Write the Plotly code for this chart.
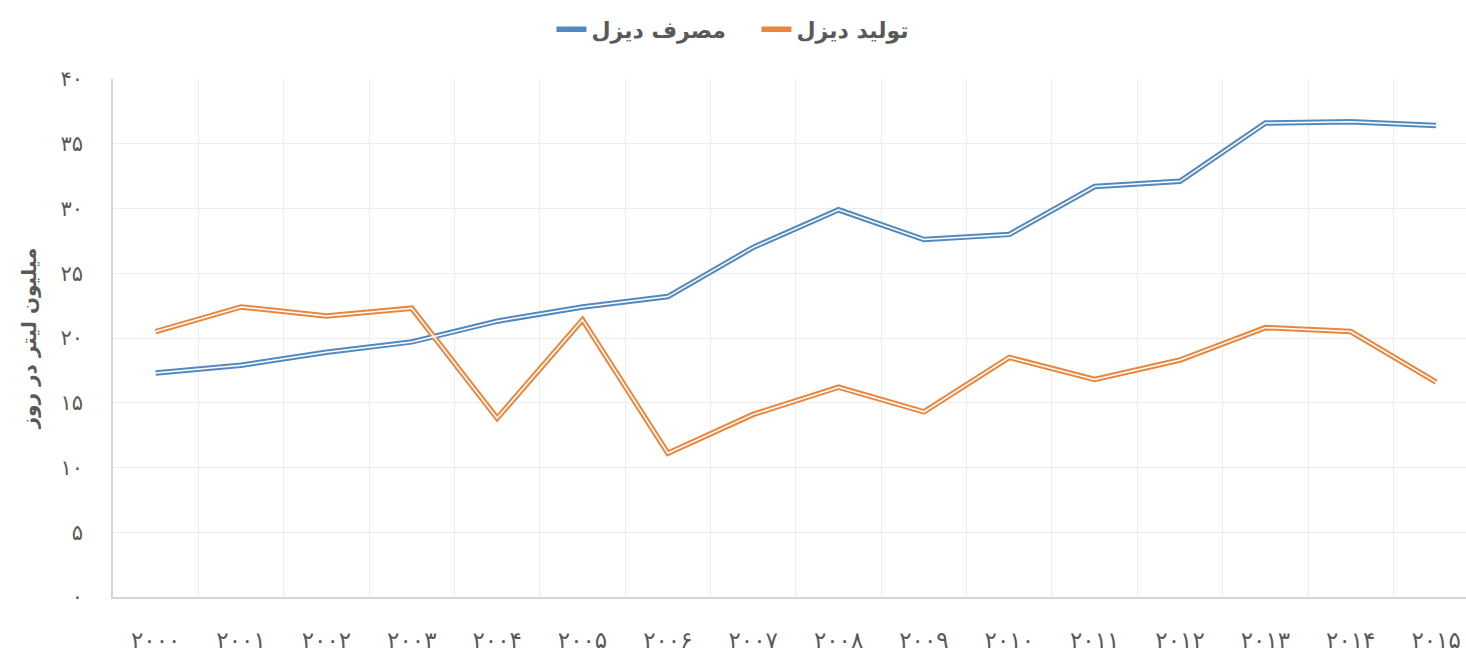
import plotly.graph_objects as go

FA = str.maketrans("0123456789", "۰۱۲۳۴۵۶۷۸۹")
def fa(v):
    return str(v).translate(FA)

years = list(range(2000, 2016))
year_labels = [fa(y) for y in years]
consumption = [17.3, 17.9, 18.9, 19.7, 21.3, 22.4, 23.2, 27.0, 29.9, 27.6, 28.0, 31.7, 32.1, 36.6, 36.7, 36.4]
production = [20.5, 22.4, 21.7, 22.3, 13.8, 21.4, 11.1, 14.1, 16.2, 14.3, 18.5, 16.8, 18.3, 20.8, 20.5, 16.6]
y_ticks = [0, 5, 10, 15, 20, 25, 30, 35, 40]
name_cons = "مصرف دیزل"
name_prod = "تولید دیزل"
y_title = "میلیون لیتر در روز"

BLUE = "#5489c0"
ORANGE = "#e9873f"
FONT = "DejaVu Sans"
TXT = "#595959"

fig = go.Figure()
for name, vals, col in [(name_cons, consumption, BLUE), (name_prod, production, ORANGE)]:
    fig.add_trace(go.Scatter(x=year_labels, y=vals, mode="lines", name=name,
                             line=dict(color=col, width=5.5)))
for vals in [consumption, production]:
    fig.add_trace(go.Scatter(x=year_labels, y=vals, mode="lines", showlegend=False,
                             hoverinfo="skip", line=dict(color="white", width=1.5)))

fig.update_layout(
    width=1466, height=654,
    margin=dict(l=113, r=0, t=79, b=57),
    paper_bgcolor="white", plot_bgcolor="white",
    font=dict(family=FONT, color=TXT),
    legend=dict(orientation="h", xref="container", yref="container",
                x=0.516, xanchor="center", y=0.955, yanchor="middle",
                entrywidth=160, entrywidthmode="pixels",
                font=dict(size=22, family="DejaVu Sans", color=TXT, weight="bold")),
    showlegend=True,
)
fig.update_xaxes(type="category", tickson="boundaries", range=[-0.5, 15.35],
                 showgrid=True, gridcolor="#ededed", gridwidth=1,
                 showline=True, linecolor="#d6d6d6", linewidth=1.5,
                 ticks="", tickfont=dict(size=23, color=TXT),
                 ticklabelstandoff=22, automargin=False, zeroline=False)
fig.update_yaxes(range=[0, 40], tickvals=y_ticks, ticktext=[fa(v) for v in y_ticks],
                 showgrid=True, gridcolor="#ededed", gridwidth=1,
                 showline=True, linecolor="#d6d6d6", linewidth=1.5,
                 ticks="", tickfont=dict(size=21, color=TXT),
                 ticklabelstandoff=24, automargin=False, zeroline=False,
                 title=dict(text=y_title, font=dict(size=20, color=TXT, weight="bold"), standoff=18))

fig.write_html("out.html", config={"displayModeBar": False},
               post_script="document.body.style.margin='0px';")
